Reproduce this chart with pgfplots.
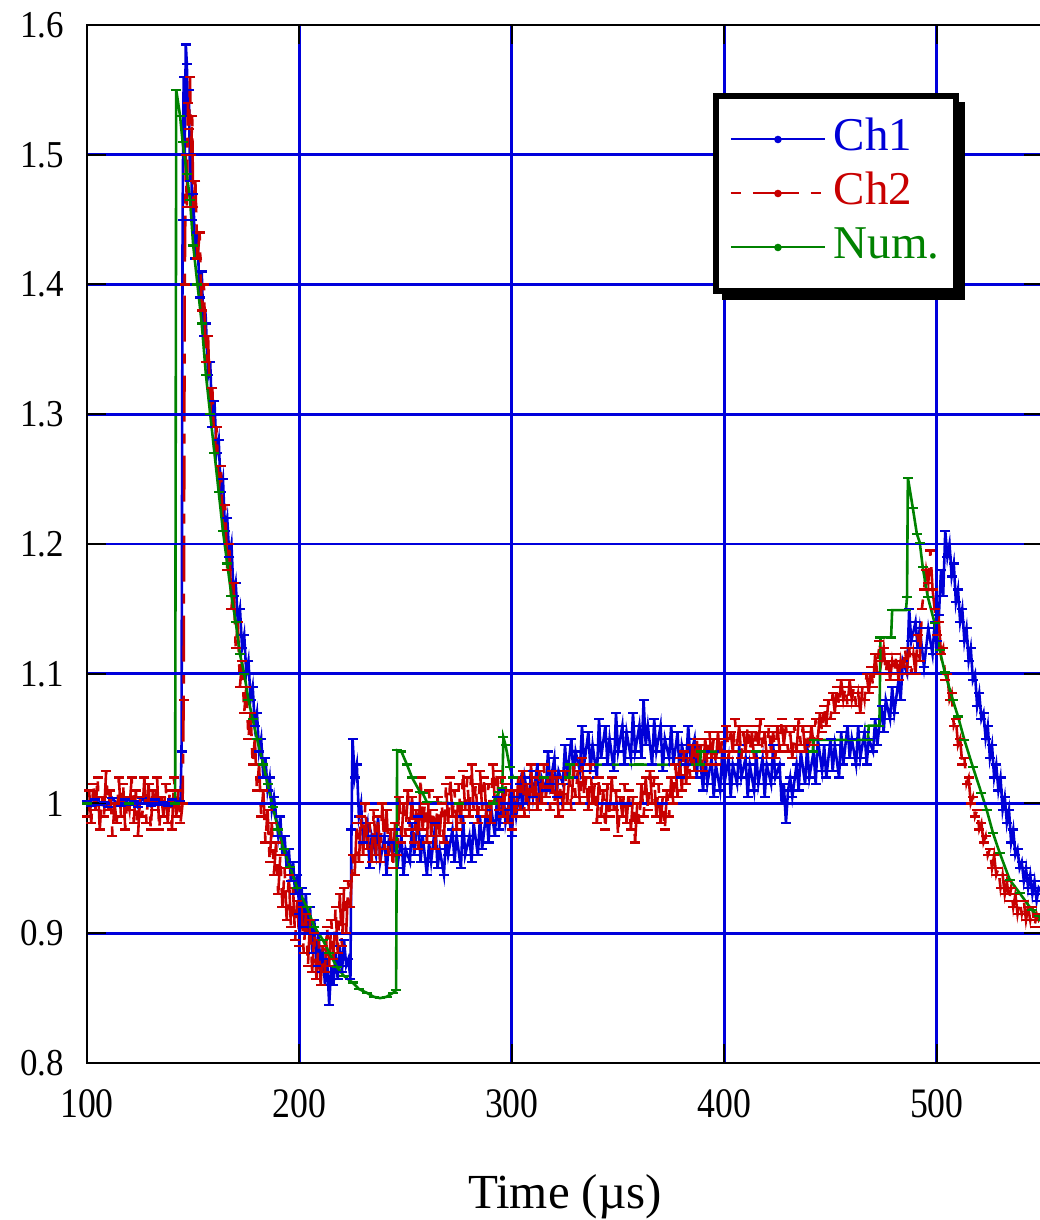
\documentclass[border=0pt]{standalone}
\usepackage{fontspec}
\setmainfont{Liberation Serif}
\usepackage{pgfplots}
\pgfplotsset{compat=1.18}
\usetikzlibrary{calc}

\definecolor{chone}{RGB}{0,0,215}
\definecolor{chtwo}{RGB}{200,0,0}
\definecolor{numc}{RGB}{0,130,0}
\definecolor{gridblue}{RGB}{0,0,220}

\begin{document}
\begin{tikzpicture}
\begin{axis}[
    scale only axis,
    width=478pt, height=519pt,
    xmin=100, xmax=550, ymin=0.8, ymax=1.6,
    xtick={100,200,300,400,500},
    xticklabels={100,200,300,400,500},
    ytick={0.8,0.9,1.0,1.1,1.2,1.3,1.4,1.5,1.6},
    yticklabels={0.8,0.9,1,1.1,1.2,1.3,1.4,1.5,1.6},
    xticklabel style={font=\rmfamily\fontsize{21}{23}\selectfont, xscale=0.85, yshift=-10pt},
    yticklabel style={font=\rmfamily\fontsize{19}{21}\selectfont, xscale=0.92, xshift=-9pt},
    tick align=inside,
    major tick length=9.5pt,
    tick style={black, line width=1pt},
    axis line style={black, line width=1.3pt},
    grid=major,
    major grid style={gridblue, line width=1.4pt},
    axis on top,
    xlabel={Time (µs)},
    xlabel style={font=\fontsize{24.5}{26}\selectfont, at={(axis description cs:0.5,0)}, anchor=base, yshift=-73pt},
    legend style={name=leg, at={(rel axis cs:0.6575,0.9315)}, anchor=north west,
        draw=none, fill=white,
        inner xsep=7pt, inner ysep=8pt,
        nodes={inner sep=1pt, text height=18pt, text depth=7pt, font=\fontsize{23.5}{25}\selectfont},
        /tikz/every odd column/.append style={column sep=3pt}},
    legend cell align=left,
    legend image code/.code={\draw[#1, mark=none, line width=1pt] (0pt,0pt) -- (47pt,0pt); \fill[#1, solid] (23.5pt,0pt) circle (1.2pt);},
]
% Ch1 (blue)
\addplot[chone, line width=1.3pt, mark=-, mark size=2.5pt, mark options={solid, line width=1.1pt}] coordinates {
(100,1.002)(102,0.998)(104,1.003)(106,0.999)(108,1.001)(110,0.997)(112,1.004)(114,1.000)(116,0.998)(118,1.003)
(120,0.999)(122,1.002)(124,0.997)(126,1.004)(128,1.000)(130,0.998)(132,1.003)(134,0.999)(136,1.001)(138,0.998)
(140,1.003)(142,1.000)(144,1.002)(144.5,1.04)(145,1.45)(145.5,1.56)(146,1.50)(146.5,1.585)(147,1.57)(147.5,1.53)
(148,1.55)(148.5,1.48)(149,1.50)(149.5,1.45)(150,1.47)(151,1.42)(152,1.44)(153,1.39)(154,1.41)(155,1.36)
(156,1.37)(157,1.33)(158,1.34)(159,1.29)(160,1.31)(161,1.27)(162,1.28)(163,1.24)(164,1.25)(165,1.21)
(166,1.22)(167,1.19)(168,1.20)(169,1.16)(170,1.17)(171,1.14)(172,1.15)(173,1.12)(174,1.13)(175,1.10)
(176,1.11)(177,1.08)(178,1.09)(179,1.06)(180,1.07)(181,1.04)(182,1.05)(183,1.02)(184,1.035)(185,1.01)
(186,1.02)(187,0.995)(188,1.005)(190,0.975)(191,0.99)(192,0.96)(193,0.975)(194,0.95)(195,0.965)(196,0.94)
(197,0.955)(198,0.93)(199,0.945)(200,0.915)(201,0.935)(202,0.905)(203,0.93)(204,0.90)(205,0.92)(206,0.885)
(207,0.91)(208,0.875)(209,0.90)(210,0.87)(211,0.89)(212,0.86)(213,0.88)(214,0.845)(215,0.875)(216,0.86)
(217,0.885)(218,0.865)(219,0.89)(220,0.87)(221,0.895)(222,0.875)(223,0.88)(224,0.865)(224.5,0.98)(225,1.05)
(226,1.02)(227,1.03)(228,0.99)(229,1.00)(230,0.97)(232,0.985)(233,0.95)(234,0.975)(236,0.96)(237,0.99)
(238,0.955)(240,0.975)(241,0.945)(242,0.97)(244,0.96)(245,0.98)(246,0.95)(248,0.975)(249,0.945)(250,0.965)
(252,0.955)(253,0.985)(254,0.96)(256,0.99)(257,0.955)(258,0.975)(260,0.945)(261,0.97)(262,0.955)(264,0.985)
(265,0.95)(266,0.965)(268,0.945)(269,0.975)(270,0.96)(272,0.98)(273,0.955)(274,0.975)(276,0.95)(277,0.99)
(278,0.96)(280,0.975)(281,0.955)(282,0.985)(284,0.96)(285,0.99)(286,0.965)(288,0.995)(289,0.97)(290,1.0)
(292,0.975)(293,1.005)(294,0.98)(296,1.01)(297,0.985)(298,0.995)(300,0.975)(301,1.005)(302,0.99)(304,1.015)
(305,0.995)(306,1.02)(308,1.0)(309,1.025)(310,1.005)(312,1.03)(313,1.0)(314,1.02)(316,1.01)(317,1.04)
(318,1.015)(320,1.035)(321,1.005)(322,1.025)(324,1.015)(325,1.045)(326,1.02)(328,1.05)(329,1.02)(330,1.04)
(332,1.025)(333,1.06)(334,1.03)(336,1.055)(337,1.025)(338,1.045)(340,1.02)(341,1.065)(342,1.035)(344,1.06)
(345,1.03)(346,1.05)(348,1.025)(349,1.07)(350,1.04)(352,1.06)(353,1.03)(354,1.055)(356,1.035)(357,1.07)
(358,1.04)(360,1.06)(361,1.035)(362,1.08)(363,1.045)(364,1.06)(366,1.03)(367,1.065)(368,1.04)(370,1.06)
(371,1.025)(372,1.05)(374,1.035)(375,1.06)(376,1.03)(378,1.055)(379,1.02)(380,1.045)(382,1.03)(383,1.06)
(384,1.035)(386,1.05)(387,1.02)(388,1.045)(390,1.01)(391,1.04)(392,1.015)(394,1.035)(395,1.005)(396,1.03)
(398,1.01)(399,1.04)(400,1.015)(402,1.035)(403,1.005)(404,1.03)(406,1.015)(407,1.045)(408,1.02)(410,1.035)
(411,1.005)(412,1.03)(414,1.01)(415,1.04)(416,1.015)(418,1.035)(419,1.005)(420,1.03)(422,1.015)(423,1.045)
(424,1.02)(426,1.03)(427,1.0)(428,1.015)(429,0.985)(430,1.01)(431,1.02)(432,1.005)(434,1.03)(435,1.01)
(436,1.04)(438,1.015)(439,1.045)(440,1.02)(442,1.04)(443,1.015)(444,1.05)(446,1.025)(447,1.045)(448,1.02)
(450,1.05)(451,1.025)(452,1.045)(454,1.02)(455,1.055)(456,1.03)(458,1.06)(459,1.035)(460,1.05)(462,1.03)
(463,1.06)(464,1.035)(466,1.055)(467,1.03)(468,1.05)(470,1.04)(471,1.065)(472,1.045)(474,1.075)(475,1.055)
(476,1.08)(478,1.065)(479,1.09)(480,1.07)(482,1.095)(483,1.08)(484,1.11)(486,1.10)(487,1.15)(488,1.125)
(490,1.14)(491,1.12)(492,1.135)(494,1.105)(495,1.12)(496,1.135)(498,1.115)(499,1.14)(500,1.125)(501,1.145)
(502,1.18)(503,1.16)(504,1.21)(505,1.19)(506,1.20)(507,1.175)(508,1.185)(509,1.155)(510,1.165)(511,1.14)
(512,1.15)(513,1.125)(514,1.135)(515,1.11)(516,1.12)(517,1.095)(518,1.10)(519,1.075)(520,1.085)(521,1.065)
(522,1.07)(523,1.05)(524,1.06)(525,1.035)(526,1.045)(527,1.02)(528,1.03)(529,1.01)(530,1.02)(531,0.995)
(532,1.005)(533,0.985)(534,0.995)(535,0.97)(536,0.98)(537,0.96)(538,0.965)(539,0.95)(540,0.955)(541,0.94)
(542,0.95)(543,0.935)(544,0.945)(545,0.93)(546,0.94)(547,0.925)(548,0.935)(550,0.93)
};
\addlegendentry{\textcolor{chone}{Ch1}}
% Ch2 (red)
\addplot[chtwo, line width=1.3pt, dash pattern=on 5pt off 6pt on 23pt off 6pt, mark=-, mark size=2.5pt, mark options={solid, line width=1.1pt}] coordinates {
(100,0.99)(101,1.01)(102,0.985)(103,1.015)(104,0.995)(105,1.02)(106,0.98)(107,1.005)(108,0.99)(109,1.025)
(110,0.995)(111,1.01)(112,0.975)(113,1.0)(114,0.985)(115,1.02)(116,0.99)(117,1.015)(118,0.98)(119,1.005)
(120,0.995)(121,1.02)(122,0.985)(123,1.01)(124,0.975)(125,1.005)(126,0.99)(127,1.02)(128,0.985)(129,1.015)
(130,0.98)(131,1.01)(132,0.995)(133,1.02)(134,0.98)(135,1.005)(136,0.99)(137,1.015)(138,0.985)(139,1.01)
(140,0.98)(141,1.02)(142,0.99)(143,1.01)(144,0.985)(145,1.0)(145.5,1.08)(146,1.40)(146.5,1.50)(147,1.46)
(147.5,1.54)(148,1.52)(148.5,1.56)(149,1.50)(149.5,1.53)(150,1.46)(151,1.48)(152,1.42)(153,1.44)(154,1.38)
(155,1.40)(156,1.34)(157,1.36)(158,1.30)(159,1.32)(160,1.27)(161,1.29)(162,1.24)(163,1.26)(164,1.21)
(165,1.23)(166,1.18)(167,1.20)(168,1.15)(169,1.17)(170,1.12)(171,1.14)(172,1.09)(173,1.11)(174,1.07)
(175,1.09)(176,1.05)(177,1.07)(178,1.03)(179,1.05)(180,1.01)(181,1.03)(182,0.99)(183,1.01)(184,0.97)
(185,0.995)(186,0.955)(187,0.985)(188,0.945)(189,0.97)(190,0.93)(191,0.96)(192,0.92)(193,0.95)(194,0.91)
(195,0.945)(196,0.905)(197,0.935)(198,0.895)(199,0.925)(200,0.89)(201,0.92)(202,0.885)(203,0.915)(204,0.875)
(205,0.91)(206,0.87)(207,0.90)(208,0.865)(209,0.895)(210,0.86)(211,0.89)(212,0.87)(213,0.905)(214,0.875)
(215,0.91)(216,0.88)(217,0.92)(218,0.885)(219,0.93)(220,0.89)(221,0.935)(222,0.90)(223,0.94)(224,0.92)
(225,0.96)(226,0.945)(227,0.985)(228,0.955)(229,0.99)(230,0.96)(231,1.0)(232,0.965)(233,0.985)(234,0.955)
(235,0.995)(236,0.96)(237,0.99)(238,0.955)(239,1.0)(240,0.965)(241,0.995)(242,0.96)(243,0.98)(244,0.95)
(245,0.985)(246,0.96)(247,1.005)(248,0.97)(249,1.0)(250,0.975)(251,1.01)(252,0.98)(253,1.005)(254,0.97)
(255,0.995)(256,0.965)(257,1.02)(258,0.98)(259,1.0)(260,0.97)(261,1.01)(262,0.975)(263,0.995)(264,0.965)
(265,1.005)(266,0.975)(267,1.0)(268,0.97)(269,1.015)(270,0.985)(271,1.02)(272,0.99)(273,1.01)(274,0.98)
(275,1.015)(276,0.985)(277,1.025)(278,0.995)(279,1.02)(280,0.99)(281,1.03)(282,0.995)(283,1.015)(284,0.985)
(285,1.025)(286,0.995)(287,1.02)(288,0.99)(289,1.015)(290,0.985)(291,1.03)(292,1.0)(293,1.025)(294,0.995)
(295,1.02)(296,0.99)(297,1.015)(298,0.985)(299,1.01)(300,0.98)(301,1.01)(302,0.99)(303,1.02)(304,0.995)
(305,1.025)(306,0.99)(307,1.015)(308,0.995)(309,1.03)(310,1.0)(311,1.02)(312,0.995)(313,1.025)(314,1.0)
(315,1.03)(316,1.005)(317,1.02)(318,0.995)(319,1.025)(320,1.0)(321,1.02)(322,0.99)(323,1.015)(324,0.995)
(325,1.025)(326,1.0)(327,1.02)(328,0.995)(329,1.03)(330,1.005)(331,1.025)(332,1.0)(333,1.035)(334,1.005)
(335,1.02)(336,0.995)(337,1.03)(338,1.0)(339,1.015)(340,0.985)(341,1.02)(342,0.99)(343,1.01)(344,0.98)
(345,1.015)(346,0.99)(347,1.02)(348,0.995)(349,1.01)(350,0.975)(351,1.005)(352,0.99)(353,1.015)(354,0.985)
(355,1.01)(356,0.98)(357,1.005)(358,0.97)(359,1.0)(360,0.985)(361,1.015)(362,0.99)(363,1.02)(364,0.995)
(365,1.025)(366,1.0)(367,1.02)(368,0.99)(369,1.015)(370,0.985)(371,1.005)(372,0.98)(373,1.01)(374,0.99)
(375,1.02)(376,1.0)(377,1.03)(378,1.005)(379,1.035)(380,1.01)(381,1.04)(382,1.015)(383,1.035)(384,1.02)
(385,1.045)(386,1.025)(387,1.05)(388,1.03)(389,1.045)(390,1.025)(391,1.05)(392,1.03)(393,1.055)(394,1.035)
(395,1.05)(396,1.03)(397,1.055)(398,1.035)(399,1.05)(400,1.04)(401,1.06)(402,1.035)(403,1.055)(404,1.04)
(405,1.065)(406,1.045)(407,1.06)(408,1.035)(409,1.055)(410,1.04)(411,1.06)(412,1.04)(413,1.055)(414,1.035)
(415,1.06)(416,1.045)(417,1.065)(418,1.04)(419,1.055)(420,1.035)(421,1.06)(422,1.04)(423,1.055)(424,1.035)
(425,1.06)(426,1.04)(427,1.065)(428,1.045)(429,1.06)(430,1.04)(431,1.055)(432,1.035)(433,1.06)(434,1.04)
(435,1.065)(436,1.045)(437,1.06)(438,1.04)(439,1.055)(440,1.04)(441,1.06)(442,1.045)(443,1.065)(444,1.05)
(445,1.07)(446,1.055)(447,1.075)(448,1.06)(449,1.08)(450,1.065)(451,1.085)(452,1.07)(453,1.09)(454,1.075)
(455,1.095)(456,1.08)(457,1.09)(458,1.075)(459,1.095)(460,1.08)(461,1.09)(462,1.075)(463,1.085)(464,1.07)
(465,1.09)(466,1.08)(467,1.10)(468,1.085)(469,1.105)(470,1.09)(471,1.115)(472,1.10)(473,1.125)(474,1.11)
(475,1.12)(476,1.10)(477,1.115)(478,1.095)(479,1.11)(480,1.10)(481,1.115)(482,1.095)(483,1.11)(484,1.10)
(485,1.12)(486,1.105)(487,1.12)(488,1.10)(489,1.115)(490,1.10)(491,1.13)(492,1.11)(493,1.15)(494,1.165)
(495,1.18)(496,1.17)(497,1.195)(498,1.165)(499,1.15)(500,1.13)(501,1.14)(502,1.115)(503,1.12)(504,1.095)
(505,1.10)(506,1.08)(507,1.085)(508,1.06)(509,1.065)(510,1.045)(511,1.05)(512,1.03)(513,1.035)(514,1.015)
(515,1.02)(516,1.0)(517,1.005)(518,0.99)(519,0.995)(520,0.98)(521,0.985)(522,0.97)(523,0.975)(524,0.96)
(525,0.965)(526,0.95)(527,0.96)(528,0.945)(529,0.95)(530,0.935)(531,0.945)(532,0.93)(533,0.94)(534,0.925)
(535,0.935)(536,0.92)(537,0.93)(538,0.915)(539,0.925)(540,0.915)(541,0.925)(542,0.91)(543,0.92)(544,0.91)
(545,0.92)(546,0.905)(547,0.915)(548,0.91)(550,0.915)
};
\addlegendentry{\textcolor{chtwo}{Ch2}}
% Num. (green)
\addplot[numc, line width=1.3pt, mark=-, mark size=2.5pt, mark options={solid, line width=1.1pt}] coordinates {
(100,1.0)(120,1.0)(141.5,1.0)(142,1.55)(143.8,1.53)(145,1.51)(147,1.485)(148.5,1.465)(150,1.43)(152,1.40)
(154,1.37)(156,1.33)(158,1.30)(160,1.27)(162,1.24)(164,1.21)(166,1.185)(168,1.16)(170,1.14)(172,1.115)
(174,1.10)(176,1.08)(178,1.065)(180,1.05)(183,1.03)(185,1.015)(187.5,0.997)(190,0.98)(192.5,0.965)(195.5,0.951)
(199,0.935)(203.5,0.92)(207,0.905)(211,0.895)(214,0.885)(217.6,0.874)(221,0.867)(225,0.862)(228,0.857)(231.8,0.854)
(235,0.851)(238,0.850)(241,0.851)(244,0.854)(245.5,0.856)(246,1.041)(248,1.04)(250.6,1.03)(253,1.02)(256.7,1.009)
(258,1.008)(260,1.001)(275,1.0)(291,1.0)(294,1.009)(295.5,1.012)(296,1.051)(297,1.045)(299,1.028)(300.5,1.020)
(315,1.02)(327,1.020)(327.5,1.030)(360,1.03)(388.5,1.030)(389,1.040)(415,1.04)(441.6,1.040)(442,1.049)(467.5,1.049)
(468,1.060)(473,1.060)(473.5,1.128)(478.5,1.128)(479,1.149)(485.5,1.149)(486,1.159)(486.4,1.251)(488.7,1.228)(490.6,1.208)
(492,1.201)(493.4,1.182)(495.8,1.159)(499,1.139)(501.4,1.118)(503.8,1.101)(507.5,1.080)(510,1.067)(513,1.049)(517,1.028)
(521,1.008)(523.5,0.995)(526.5,0.977)(529.6,0.962)(534.4,0.941)(539,0.931)(544.7,0.918)(548,0.913)(550,0.91)
};
\addlegendentry{\textcolor{numc}{Num.}}
\end{axis}
% legend frame with its drop shadow
\fill[black] ($(leg.north east)+(1.5pt,-3pt)$) rectangle ($(leg.south east)+(4.5pt,-4.5pt)$);
\fill[black] ($(leg.south west)+(3pt,-1.5pt)$) rectangle ($(leg.south east)+(4.5pt,-4.5pt)$);
\draw[black, line width=3pt] (leg.south west) rectangle (leg.north east);
\pgfresetboundingbox
\path[use as bounding box] (current axis.north west) ++(-43.5pt,12.5pt) rectangle ++(519.5pt,-610pt);
\end{tikzpicture}
\end{document}
